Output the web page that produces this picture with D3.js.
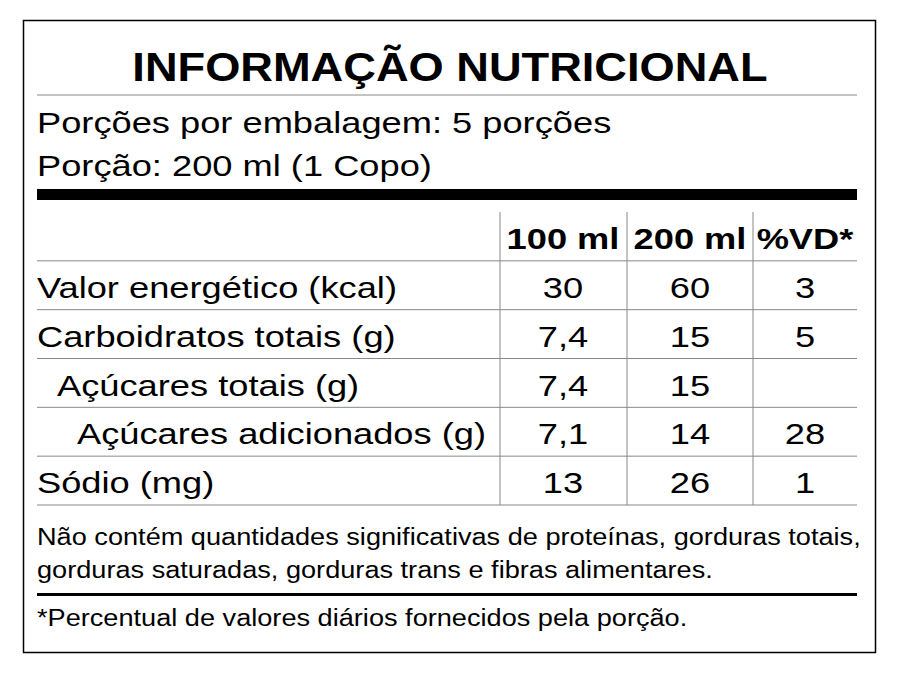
<!DOCTYPE html>
<html><head><meta charset="utf-8">
<script src="https://cdn.jsdelivr.net/npm/d3@7"></script>
<style>body{margin:0;background:#fff}text{font-family:"Liberation Sans",Arial,sans-serif;fill:#000}</style>
</head><body><div id="vis"></div>
<script>
'use strict'

const nutrients = ['Valor energético (kcal)', 'Carboidratos totais (g)', 'Açúcares totais (g)', 'Açúcares adicionados (g)', 'Sódio (mg)']
const indentLevel = [0, 0, 1, 2, 0]
const per100 = ['30', '7,4', '7,4', '7,1', '13']
const per200 = ['60', '15', '15', '14', '26']
const vd = ['3', '5', '', '28', '1']
const columns = ['100 ml', '200 ml', '%VD*']

const svg = d3.select('#vis').append('svg').attr('width', 898).attr('height', 676)

// the reference glyphs are horizontally wider than Liberation Sans: stretch via textLength
function stretch(sel, f) {
  sel.each(function() {
    const len = this.getComputedTextLength()
    if (len > 0) d3.select(this).attr('textLength', len * f).attr('lengthAdjust', 'spacingAndGlyphs')
  })
  return sel
}

svg.append('rect').attr('x', 23.5).attr('y', 20.5).attr('width', 852).attr('height', 632)
  .attr('fill', 'none').attr('stroke', '#000').attr('stroke-width', 1.5)

const left = 37, right = 857

stretch(svg.append('text').attr('x', 450).attr('y', 81).attr('text-anchor', 'middle')
  .style('font-size', '40px').style('font-weight', 'bold').text('INFORMAÇÃO NUTRICIONAL'), 1.13)
svg.append('line').attr('x1', left).attr('x2', right).attr('y1', 95).attr('y2', 95).attr('stroke', '#888')
stretch(svg.append('text').attr('x', left).attr('y', 133).style('font-size', '29px').text('Porções por embalagem: 5 porções'), 1.25)
stretch(svg.append('text').attr('x', left).attr('y', 176).style('font-size', '29px').text('Porção: 200 ml (1 Copo)'), 1.25)
svg.append('rect').attr('x', left).attr('y', 189).attr('width', right - left).attr('height', 11).attr('fill', '#000')

// table
const y = d3.scaleBand().domain(['head'].concat(nutrients)).range([212, 505])
const colX = d3.scaleOrdinal().domain(columns).range([563, 690, 805])
const colEdges = [500, 627, 753]

colEdges.forEach(x => svg.append('line').attr('x1', x).attr('x2', x).attr('y1', 212).attr('y2', 505).attr('stroke', '#888'))
nutrients.forEach(n => svg.append('line').attr('x1', left).attr('x2', right)
  .attr('y1', y(n)).attr('y2', y(n)).attr('stroke', '#888'))
svg.append('line').attr('x1', left).attr('x2', right).attr('y1', 505).attr('y2', 505).attr('stroke', '#888')

const base = y.bandwidth() * 0.76
columns.forEach(c => stretch(svg.append('text').attr('x', colX(c)).attr('y', y('head') + base)
  .attr('text-anchor', 'middle').style('font-size', '29px').style('font-weight', 'bold').text(c), 1.25))

nutrients.forEach((n, i) => {
  const ty = y(n) + base
  stretch(svg.append('text').attr('x', left + indentLevel[i] * 20).attr('y', ty).style('font-size', '29px').text(n), 1.25)
  ;[per100[i], per200[i], vd[i]].forEach((v, j) => stretch(svg.append('text').attr('x', colX(columns[j])).attr('y', ty)
    .attr('text-anchor', 'middle').style('font-size', '29px').text(v), 1.25))
})

stretch(svg.append('text').attr('x', left).attr('y', 545).style('font-size', '23px')
  .text('Não contém quantidades significativas de proteínas, gorduras totais,'), 1.18)
stretch(svg.append('text').attr('x', left).attr('y', 578).style('font-size', '23px')
  .text('gorduras saturadas, gorduras trans e fibras alimentares.'), 1.18)
svg.append('rect').attr('x', left).attr('y', 593).attr('width', right - left).attr('height', 3).attr('fill', '#000')
stretch(svg.append('text').attr('x', left).attr('y', 626).style('font-size', '23px')
  .text('*Percentual de valores diários fornecidos pela porção.'), 1.18)
</script></body></html>
